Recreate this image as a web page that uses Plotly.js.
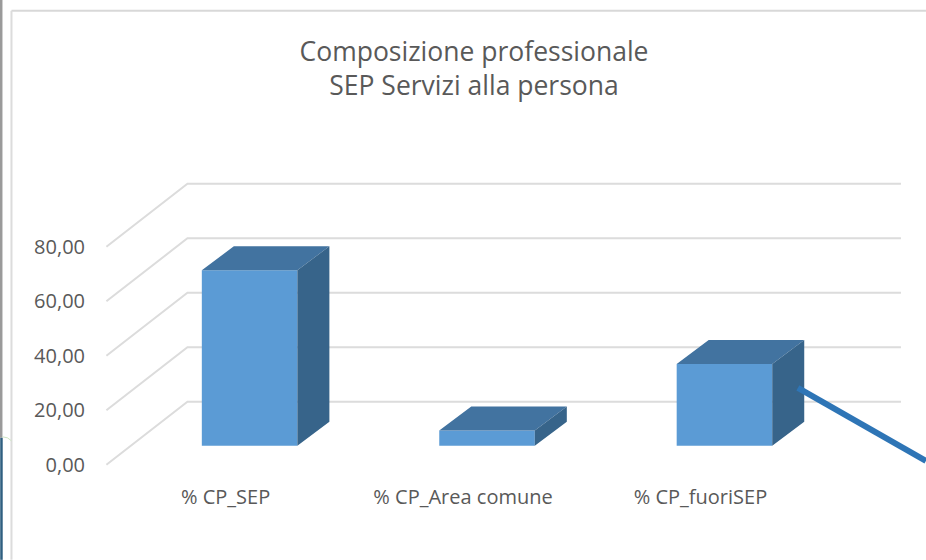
<!DOCTYPE html>
<html><head><meta charset="utf-8">
<script src="https://cdn.plot.ly/plotly-3.0.1.min.js"></script>
<style>html,body{margin:0;padding:0;background:#fff;overflow:hidden}#c{width:926px;height:560px}</style>
</head><body><div id="c"></div>
<script>
const categories = ['% CP_SEP', '% CP_Area comune', '% CP_fuoriSEP'];
const values = [64.4, 5.6, 30];
const yTicks = [0, 20, 40, 60, 80];
const yTickLabels = ['0,00', '20,00', '40,00', '60,00', '80,00'];
const titleText = 'Composizione professionale<br>SEP Servizi alla persona';

const W = 926, H = 560;
const pxPerCat = 237.3, pxPerVal = 2.725;
const xZeroPx = 226, yZeroPx = 465;
const xr = [-0.55, 2.87], yr = [-3, 110];
const mL = xZeroPx + xr[0] * pxPerCat;
const mR = W - (xZeroPx + xr[1] * pxPerCat);
const mT = yZeroPx - yr[1] * pxPerVal;
const mB = H - (yZeroPx - yr[0] * pxPerVal);

// oblique projection of the depth axis
const wallDx = 81 / pxPerCat, wallDy = 63 / pxPerVal;   // front edge -> back wall
const barShiftX = 24 / pxPerCat, barBase = 19 / pxPerVal; // bar front face position
const barDx = 32 / pxPerCat, barDy = 24 / pxPerVal;     // bar depth
const barW = 95.5 / pxPerCat;
const wallEnd = (901 - xZeroPx) / pxPerCat;

const GRID = '#dcdcdc';
const shapes = [];
yTicks.forEach(v => {
  shapes.push({type: 'path', layer: 'below', xref: 'x', yref: 'y',
    path: `M ${xr[0] + 0.048} ${v} L ${xr[0] + 0.048 + wallDx} ${v + wallDy} L ${wallEnd} ${v + wallDy}`,
    line: {color: GRID, width: 2}});
});
function pline(x0, y0, x1, y1, color, width) {
  return {type: 'line', xref: 'paper', yref: 'paper', layer: 'above',
    x0: (x0 - mL) / (W - mL - mR), x1: (x1 - mL) / (W - mL - mR),
    y0: (H - mB - y0) / (H - mT - mB), y1: (H - mB - y1) / (H - mT - mB),
    line: {color, width}};
}
shapes.push(pline(12, 11, 926, 11, '#d8d8d8', 2));
shapes.push(pline(12, 11, 12, 560, '#dcdcdc', 2));
shapes.push(pline(1.5, 0, 1.5, 438, '#9a9a9a', 3));
shapes.push(pline(2, 438, 2, 560, '#2f5f80', 2.5));
shapes.push(pline(3, 437, 8, 438, '#cfe6c4', 1));
shapes.push(pline(8, 438, 12, 441, '#cfe6c4', 1));
shapes.push(pline(798, 388, 926, 461, '#2e75b6', 6));

const centers = categories.map((c, i) => i + barShiftX);
const topX = [], topY = [], sideX = [], sideY = [];
values.forEach((v, i) => {
  const l = centers[i] - barW / 2, r = centers[i] + barW / 2, t = barBase + v, b = barBase;
  topX.push(l, r, r + barDx, l + barDx, l, null);
  topY.push(t, t, t + barDy, t + barDy, t, null);
  sideX.push(r, r + barDx, r + barDx, r, r, null);
  sideY.push(t, t + barDy, b + barDy, b, t, null);
});

const data = [
  {type: 'bar', x: centers, y: values, base: barBase, width: barW, cliponaxis: false,
   marker: {color: '#5b9bd5', line: {width: 0}}, hoverinfo: 'skip', text: categories, textposition: 'none'},
  {type: 'scatter', mode: 'lines', x: topX, y: topY, fill: 'toself', fillcolor: '#4273a0',
   line: {width: 0, color: '#4273a0'}, hoverinfo: 'skip'},
  {type: 'scatter', mode: 'lines', x: sideX, y: sideY, fill: 'toself', fillcolor: '#37648a',
   line: {width: 0, color: '#37648a'}, hoverinfo: 'skip'}
];
const font = {family: '"Open Sans", sans-serif', color: '#595959'};
const layout = {
  width: W, height: H, showlegend: false, paper_bgcolor: '#fff', plot_bgcolor: 'rgba(0,0,0,0)',
  margin: {l: mL, r: mR, t: mT, b: mB, pad: 0},
  title: {text: titleText, font: {family: font.family, color: font.color, size: 26.5},
    x: 474 / W, xanchor: 'center', y: 1 - 61 / H, yanchor: 'top'},
  xaxis: {range: xr, tickmode: 'array', tickvals: categories.map((c, i) => i), ticktext: categories,
    showgrid: false, zeroline: false, showline: false, ticks: 'outside', ticklen: 6, tickcolor: 'rgba(0,0,0,0)',
    tickfont: {family: font.family, color: font.color, size: 20}},
  yaxis: {range: yr, tickmode: 'array', tickvals: yTicks, ticktext: yTickLabels,
    showgrid: false, zeroline: false, showline: false, ticks: 'outside', ticklen: 5, tickcolor: 'rgba(0,0,0,0)',
    tickfont: {family: font.family, color: font.color, size: 20}},
  shapes
};
Plotly.newPlot('c', data, layout, {displayModeBar: false, staticPlot: true});
</script></body></html>
